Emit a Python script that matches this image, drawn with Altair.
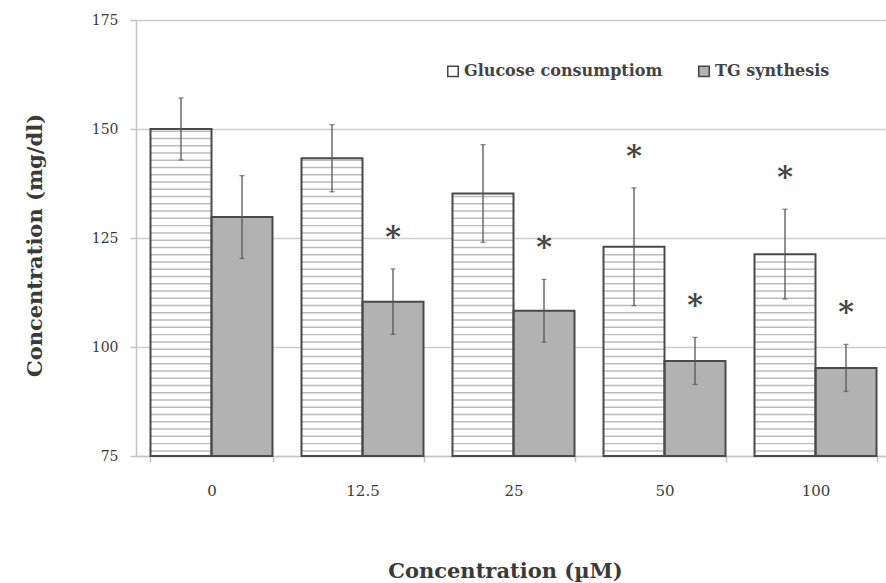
import altair as alt
import pandas as pd

# Concentrations tested (µM) and measured means / error bars (mg/dl)
categories = ["0", "12.5", "25", "50", "100"]
series = ["Glucose consumptiom", "TG synthesis"]
glucose = [150.0, 143.3, 135.2, 123.0, 121.3]
glucose_err = [7.1, 7.7, 11.2, 13.5, 10.3]
tg = [129.8, 110.4, 108.3, 96.8, 95.2]
tg_err = [9.5, 7.5, 7.2, 5.4, 5.4]
glucose_sig = [False, False, False, True, True]
tg_sig = [False, True, True, True, True]
y_ticks = [75, 100, 125, 150, 175]

FONT = "DejaVu Serif, serif"
INK = "#3a3a3a"
AXIS_GRAY = "#c4c4c4"
Y_MIN = 75

rows = []
for i, c in enumerate(categories):
    rows.append(dict(conc=c, series=series[0], value=glucose[i], err=glucose_err[i], sig=glucose_sig[i]))
    rows.append(dict(conc=c, series=series[1], value=tg[i], err=tg_err[i], sig=tg_sig[i]))
df = pd.DataFrame(rows)
df["lo"] = df["value"] - df["err"]
df["hi"] = df["value"] + df["err"]
df["base"] = Y_MIN

# horizontal hatch lines filling the glucose bars
hatch_step = 25 / 15
hatch_rows = []
for c, v in zip(categories, glucose):
    y = Y_MIN + hatch_step * 0.6
    while y < v - 0.6:
        hatch_rows.append(dict(conc=c, series=series[0], y=y, y2=y + 0.34))
        y += hatch_step
hatch = pd.DataFrame(hatch_rows)

x_enc = alt.X(
    "conc:N",
    sort=categories,
    scale=alt.Scale(range=[0, 755], paddingInner=0.192, paddingOuter=0.096),
    axis=alt.Axis(
        title="Concentration (µM)",
        labelAngle=0,
        labelFont=FONT,
        labelFontSize=15,
        labelColor=INK,
        labelPadding=21,
        tickBand="extent",
        tickColor=AXIS_GRAY,
        tickSize=6,
        tickWidth=1.5,
        domainColor=AXIS_GRAY,
        domainWidth=1.5,
        titleFont=FONT,
        titleFontSize=21,
        titleFontWeight="bold",
        titleColor=INK,
        titleX=369,
        titleY=115,
        titleBaseline="middle",
    ),
)
x_off = alt.XOffset("series:N", sort=series)
y_scale = alt.Scale(domain=[75, 175], nice=False, zero=False)
y_axis = alt.Axis(
    title="Concentration (mg/dl)",
    values=y_ticks,
    labelFont=FONT,
    labelFontSize=14,
    labelColor=INK,
    labelPadding=12,
    tickColor=AXIS_GRAY,
    tickSize=6,
    tickWidth=1.5,
    domainColor=AXIS_GRAY,
    domainWidth=1.5,
    gridColor="#cdcdcd",
    gridWidth=1.5,
    titleFont=FONT,
    titleFontSize=21,
    titleFontWeight="bold",
    titleColor=INK,
    titleX=-101,
    titleY=225,
    titleAlign="center",
    titleBaseline="middle",
)

base = alt.Chart(df)

bars = base.mark_bar(stroke=None).encode(
    x=x_enc,
    xOffset=x_off,
    y=alt.Y("value:Q", scale=y_scale, axis=y_axis),
    y2="base:Q",
    color=alt.Color(
        "series:N",
        sort=series,
        scale=alt.Scale(domain=series, range=["#ffffff", "#b2b2b2"]),
        legend=alt.Legend(
            title=None,
            orient="none",
            legendX=309,
            legendY=43,
            direction="horizontal",
            symbolType="square",
            symbolSize=110,
            symbolStrokeColor="#444444",
            symbolStrokeWidth=1.5,
            labelFont=FONT,
            labelFontSize=16,
            labelFontWeight="bold",
            labelColor="#444444",
            labelOffset=3,
            labelLimit=400,
            columnPadding=32,
        ),
    ),
)

hatch_lines = alt.Chart(hatch).mark_bar(color="#bdbdbd").encode(
    x=x_enc,
    xOffset=x_off,
    y=alt.Y("y:Q", scale=y_scale, axis=y_axis),
    y2="y2:Q",
)

outlines = base.mark_bar(fill=None, stroke="#4a4a4a", strokeWidth=2).encode(
    x=x_enc,
    xOffset=x_off,
    y=alt.Y("value:Q", scale=y_scale, axis=y_axis),
    y2="base:Q",
)

err_rules = base.mark_rule(color="#555555", strokeWidth=1.3).encode(
    x=x_enc,
    xOffset=x_off,
    y=alt.Y("lo:Q", scale=y_scale, axis=y_axis),
    y2="hi:Q",
)

caps_hi = base.mark_tick(color="#555555", thickness=1.3, size=5, orient="horizontal").encode(
    x=x_enc,
    xOffset=x_off,
    y=alt.Y("hi:Q", scale=y_scale, axis=y_axis),
)
caps_lo = base.mark_tick(color="#555555", thickness=1.3, size=5, orient="horizontal").encode(
    x=x_enc,
    xOffset=x_off,
    y=alt.Y("lo:Q", scale=y_scale, axis=y_axis),
)

stars = (
    base.transform_filter("datum.sig")
    .transform_calculate(star_y="datum.hi + 8.5")
    .mark_text(text="*", font=FONT, fontSize=30, fontWeight="bold", color="#444444", baseline="middle", dy=6)
    .encode(
        x=x_enc,
        xOffset=x_off,
        y=alt.Y("star_y:Q", scale=y_scale, axis=y_axis),
    )
)

chart = (
    alt.layer(bars, hatch_lines, outlines, err_rules, caps_hi, caps_lo, stars)
    .properties(
        width=750,
        height=436,
        autosize=alt.AutoSizeParams(type="none"),
        padding={"left": 136, "top": 20, "right": 0, "bottom": 127},
        background="white",
    )
    .configure_view(stroke=None)
    .configure_legend(labelFont=FONT, labelFontSize=16, labelFontWeight="bold", labelColor="#444444", labelLimit=400)
)

chart.save("out.html", embed_options={"renderer": "svg", "actions": False})
